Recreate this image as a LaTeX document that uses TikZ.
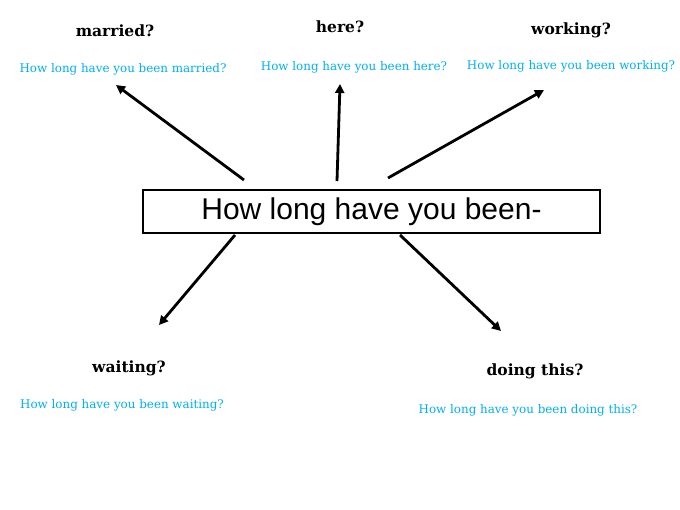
\documentclass[tikz,border=0pt]{standalone}
\usepackage{fontspec}
\setmainfont{Liberation Sans}
\newfontfamily\slab{DejaVu Serif}
\usetikzlibrary{arrows.meta}
\definecolor{skyblue}{HTML}{00B0F0}
\begin{document}
\begin{tikzpicture}[x=1pt,y=-1pt,
  mainbox/.style={draw, line width=2.8pt, minimum width=457pt, minimum height=43pt, inner sep=0pt, font=\fontsize{30}{32}\selectfont},
  word/.style={font=\slab\bfseries\fontsize{15.5}{17}\selectfont, inner sep=0pt},
  question/.style={font=\slab\fontsize{11.9}{13}\selectfont, text=skyblue, inner sep=0pt},
  arr/.style={line width=2.8pt, -{Triangle[length=9pt,width=9pt]}}]
\useasboundingbox (0,0) rectangle (680,510);
\node[mainbox] (box) at (371.5,211.5) {How long have you been-};
\node[word] (w1) at (115,31) {married?};
\node[question] (q1) at (123,69) {How long have you been married?};
\node[word] (w2) at (340,27) {here?};
\node[question] (q2) at (354,67) {How long have you been here?};
\node[word] (w3) at (571,30) {working?};
\node[question] (q3) at (571,66) {How long have you been working?};
\node[word] (w4) at (129,368) {waiting?};
\node[question] (q4) at (122,405) {How long have you been waiting?};
\node[word] (w5) at (535,371) {doing this?};
\node[question] (q5) at (528,410) {How long have you been doing this?};
\coordinate (s1) at (244,180); \coordinate (e1) at (116,85);
\coordinate (s2) at (337,181); \coordinate (e2) at (340,84);
\coordinate (s3) at (388,178); \coordinate (e3) at (544,90);
\coordinate (s4) at (235,235); \coordinate (e4) at (159,325);
\coordinate (s5) at (400,235); \coordinate (e5) at (501,331);
\draw[arr] (s1) -- (e1);
\draw[arr] (s2) -- (e2);
\draw[arr] (s3) -- (e3);
\draw[arr] (s4) -- (e4);
\draw[arr] (s5) -- (e5);
\end{tikzpicture}
\end{document}
